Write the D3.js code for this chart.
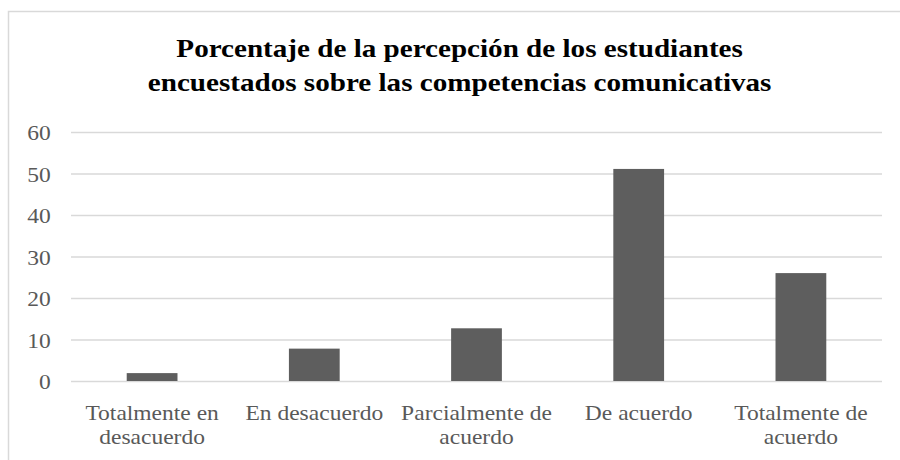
<!DOCTYPE html>
<html>
<head>
<meta charset="utf-8">
<script src="https://cdn.jsdelivr.net/npm/d3@7"></script>
<style>
  body { margin: 0; background: #fff; }
  .grid line { stroke: #d9d9d9; stroke-width: 1.5; }
</style>
</head>
<body>
<svg width="900" height="460"></svg>
<script>
const categories = ['Totalmente en desacuerdo', 'En desacuerdo', 'Parcialmente de acuerdo', 'De acuerdo', 'Totalmente de acuerdo'];
const values = [1.9, 7.8, 12.7, 51.1, 26.0];
const yTicks = [0, 10, 20, 30, 40, 50, 60];
const titleLines = ['Porcentaje de la percepción de los estudiantes', 'encuestados sobre las competencias comunicativas'];

const font = 'Liberation Serif';
const sx = 1.12; // the original text is drawn slightly wide
const svg = d3.select('svg');
const margin = { left: 71, right: 18, top: 132, bottom: 79 };
const width = +svg.attr('width');
const height = +svg.attr('height');

// chart area border: only its top and left edges are inside the picture
svg.append('path')
  .attr('d', `M8.5,${height}V11.5H${width}`)
  .attr('fill', 'none')
  .attr('stroke', '#d9d9d9')
  .attr('stroke-width', 1.5);

svg.append('text')
  .attr('text-anchor', 'middle')
  .style('font-family', font)
  .style('font-weight', 'bold')
  .style('font-size', '26px')
  .style('fill', '#000')
  .attr('transform', `translate(459.6,0) scale(${sx},1)`)
  .selectAll('tspan')
  .data(titleLines)
  .enter().append('tspan')
    .attr('x', 0)
    .attr('y', (d, i) => 57 + i * 34)
    .text(d => d);

const xScale = d3.scaleBand()
  .domain(categories)
  .range([margin.left, width - margin.right])
  .paddingInner(0.687)
  .paddingOuter(0.3435);

const yScale = d3.scaleLinear()
  .domain([0, 60])
  .range([height - margin.bottom, margin.top]);

const yAxis = d3.axisLeft(yScale)
  .tickValues(yTicks)
  .tickSize(-(width - margin.left - margin.right))
  .tickPadding(20.3);

const yAxisG = svg.append('g')
  .attr('class', 'grid')
  .attr('transform', `translate(${margin.left},0)`)
  .call(yAxis);
yAxisG.select('.domain').remove();
yAxisG.selectAll('.tick text')
  .attr('x', -20.3 / sx)
  .attr('dy', '0.36em')
  .attr('transform', `scale(${sx},1)`)
  .style('font-family', font)
  .style('font-size', '21px')
  .style('fill', '#595959');

svg.selectAll('rect.bar')
  .data(values)
  .enter().append('rect')
    .attr('class', 'bar')
    .attr('x', (d, i) => xScale(categories[i]))
    .attr('y', d => yScale(d))
    .attr('width', xScale.bandwidth())
    .attr('height', d => yScale(0) - yScale(d))
    .attr('fill', '#5e5e5e');

// category labels, wrapped to the category width like the original
const step = xScale.step();
const xLabels = svg.selectAll('text.cat')
  .data(categories)
  .enter().append('text')
    .attr('class', 'cat')
    .attr('text-anchor', 'middle')
    .attr('transform', d => `translate(${xScale(d) + xScale.bandwidth() / 2},${yScale(0)}) scale(${sx},1)`)
    .style('font-family', font)
    .style('font-size', '21px')
    .style('fill', '#595959');

xLabels.each(function(d) {
  const el = d3.select(this);
  const words = d.split(' ');
  const lines = [];
  let line = [];
  const probe = el.append('tspan');
  words.forEach(w => {
    line.push(w);
    probe.text(line.join(' '));
    if (probe.node().getComputedTextLength() * sx > step - 4 && line.length > 1) {
      line.pop();
      lines.push(line.join(' '));
      line = [w];
    }
  });
  lines.push(line.join(' '));
  probe.remove();
  lines.forEach((l, i) => {
    el.append('tspan')
      .attr('x', 0)
      .attr('y', 39 + i * 24.5)
      .text(l);
  });
});
</script>
</body>
</html>
